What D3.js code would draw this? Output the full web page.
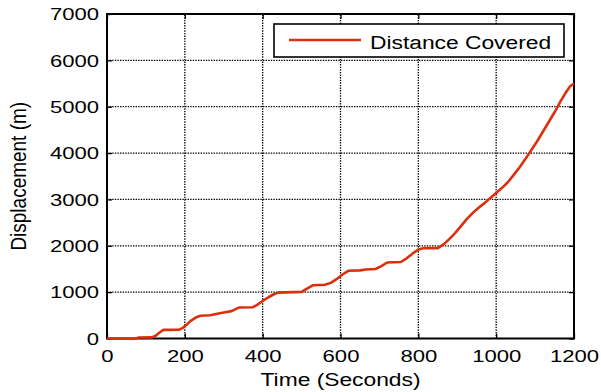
<!DOCTYPE html>
<html>
<head>
<meta charset="utf-8">
<script src="https://cdn.jsdelivr.net/npm/d3@7"></script>
<style>
  body { margin: 0; background: #fff; }
  text { font-family: "Liberation Sans", Arial, Helvetica, sans-serif; fill: #000; }
</style>
</head>
<body>
<svg id="chart" width="601" height="392"></svg>
<script>
// Elapsed time (s) and cumulative displacement (m)
const timeSec = [0, 75, 80, 115, 125, 135, 145, 185, 195, 205, 215, 230, 240, 265, 280, 300, 320, 340, 375,
  385, 400, 415, 430, 440, 500, 515, 530, 560, 575, 590, 605, 620, 650, 665, 690, 705, 720, 755, 770, 785,
  800, 815, 850, 865, 880, 895, 910, 925, 940, 955, 970, 985, 1000, 1015, 1030, 1045, 1060, 1075, 1090,
  1105, 1120, 1135, 1150, 1165, 1180, 1190, 1200];
const displacement = [0, 0, 20, 25, 60, 130, 185, 190, 230, 300, 380, 460, 490, 500, 530, 560, 590, 670, 675,
  720, 810, 890, 960, 990, 1005, 1080, 1150, 1160, 1200, 1280, 1380, 1460, 1470, 1490, 1500, 1560, 1640, 1650, 1730, 1830,
  1920, 1950, 1950, 2030, 2150, 2280, 2430, 2580, 2710, 2820, 2920, 3030, 3140, 3250, 3370, 3530, 3690, 3870, 4060,
  4250, 4460, 4670, 4880, 5110, 5320, 5440, 5500];

const xTicks = [0, 200, 400, 600, 800, 1000, 1200];
const yTicks = [0, 1000, 2000, 3000, 4000, 5000, 6000, 7000];
const seriesName = "Distance Covered";
const xTitle = "Time (Seconds)";
const yTitle = "Displacement (m)";

const lineColor = "#dc2f0c";
const svg = d3.select("#chart");

const x = d3.scaleLinear().domain([0, 1200]).range([107, 574]);
const y = d3.scaleLinear().domain([0, 7000]).range([338.5, 14]);

const tickStretch = 1.38;   // wide tick lettering
const titleStretch = 1.2;

// dotted grid
const grid = svg.append("g").attr("stroke", "#000").attr("stroke-width", 1.3)
  .attr("stroke-dasharray", "1.4,1.2");
grid.selectAll("line.gx").data(xTicks.slice(1, -1)).join("line")
  .attr("x1", d => x(d)).attr("x2", d => x(d))
  .attr("y1", y.range()[0]).attr("y2", y.range()[1]);
grid.selectAll("line.gy").data(yTicks.slice(1, -1)).join("line")
  .attr("y1", d => y(d)).attr("y2", d => y(d))
  .attr("x1", x.range()[0]).attr("x2", x.range()[1]);

// axes with inward ticks on all four sides
const tickLen = 5;
const gBottom = svg.append("g").attr("transform", `translate(0,${y(0)})`)
  .call(d3.axisBottom(x).tickValues(xTicks).tickSize(-tickLen).tickPadding(0).tickFormat(d3.format("d")));
const gLeft = svg.append("g").attr("transform", `translate(${x(0)},0)`)
  .call(d3.axisLeft(y).tickValues(yTicks).tickSize(-tickLen).tickPadding(0).tickFormat(d3.format("d")));
const gTop = svg.append("g").attr("transform", `translate(0,${y(7000)})`)
  .call(d3.axisTop(x).tickValues(xTicks).tickSize(-tickLen).tickFormat(""));
const gRight = svg.append("g").attr("transform", `translate(${x(1200)},0)`)
  .call(d3.axisRight(y).tickValues(yTicks).tickSize(-tickLen).tickFormat(""));

[gBottom, gLeft, gTop, gRight].forEach(g => {
  g.select(".domain").remove();
  g.selectAll(".tick line").attr("stroke", "#000").attr("stroke-width", 1.3);
});

gBottom.selectAll(".tick text")
  .attr("x", null).attr("y", null).attr("dy", null)
  .attr("transform", `translate(0,23.2) scale(${tickStretch},1)`)
  .attr("font-size", 16).attr("text-anchor", "middle");
gLeft.selectAll(".tick text")
  .attr("x", null).attr("y", null).attr("dy", null)
  .attr("transform", `translate(-8,5.7) scale(${tickStretch},1)`)
  .attr("font-size", 16).attr("text-anchor", "end");

// plot frame
svg.append("rect")
  .attr("x", x(0)).attr("y", y(7000))
  .attr("width", x(1200) - x(0)).attr("height", y(0) - y(7000))
  .attr("fill", "none").attr("stroke", "#000").attr("stroke-width", 2);

// series
const pts = timeSec.map((t, i) => [t, displacement[i]]);
svg.append("path").datum(pts)
  .attr("fill", "none").attr("stroke", lineColor).attr("stroke-width", 2.6)
  .attr("stroke-linejoin", "round")
  .attr("d", d3.line().x(d => x(d[0])).y(d => y(d[1])));

// legend
const lg = svg.append("g");
lg.append("rect").attr("x", 274).attr("y", 24).attr("width", 290).attr("height", 33)
  .attr("fill", "#fff").attr("stroke", "#000").attr("stroke-width", 1.6);
lg.append("line").attr("x1", 289).attr("x2", 361).attr("y1", 40).attr("y2", 40)
  .attr("stroke", lineColor).attr("stroke-width", 2.6);
lg.append("text").attr("transform", `translate(370,48.5) scale(${titleStretch},1)`)
  .attr("font-size", 19).text(seriesName);

// axis titles
svg.append("text")
  .attr("transform", `translate(${(x(0) + x(1200)) / 2},386) scale(${titleStretch},1)`)
  .attr("text-anchor", "middle").attr("font-size", 19).text(xTitle);
svg.append("text")
  .attr("transform", `translate(26,${(y(0) + y(7000)) / 2}) scale(${titleStretch},1) rotate(-90)`)
  .attr("text-anchor", "middle").attr("font-size", 19).text(yTitle);
</script>
</body>
</html>
